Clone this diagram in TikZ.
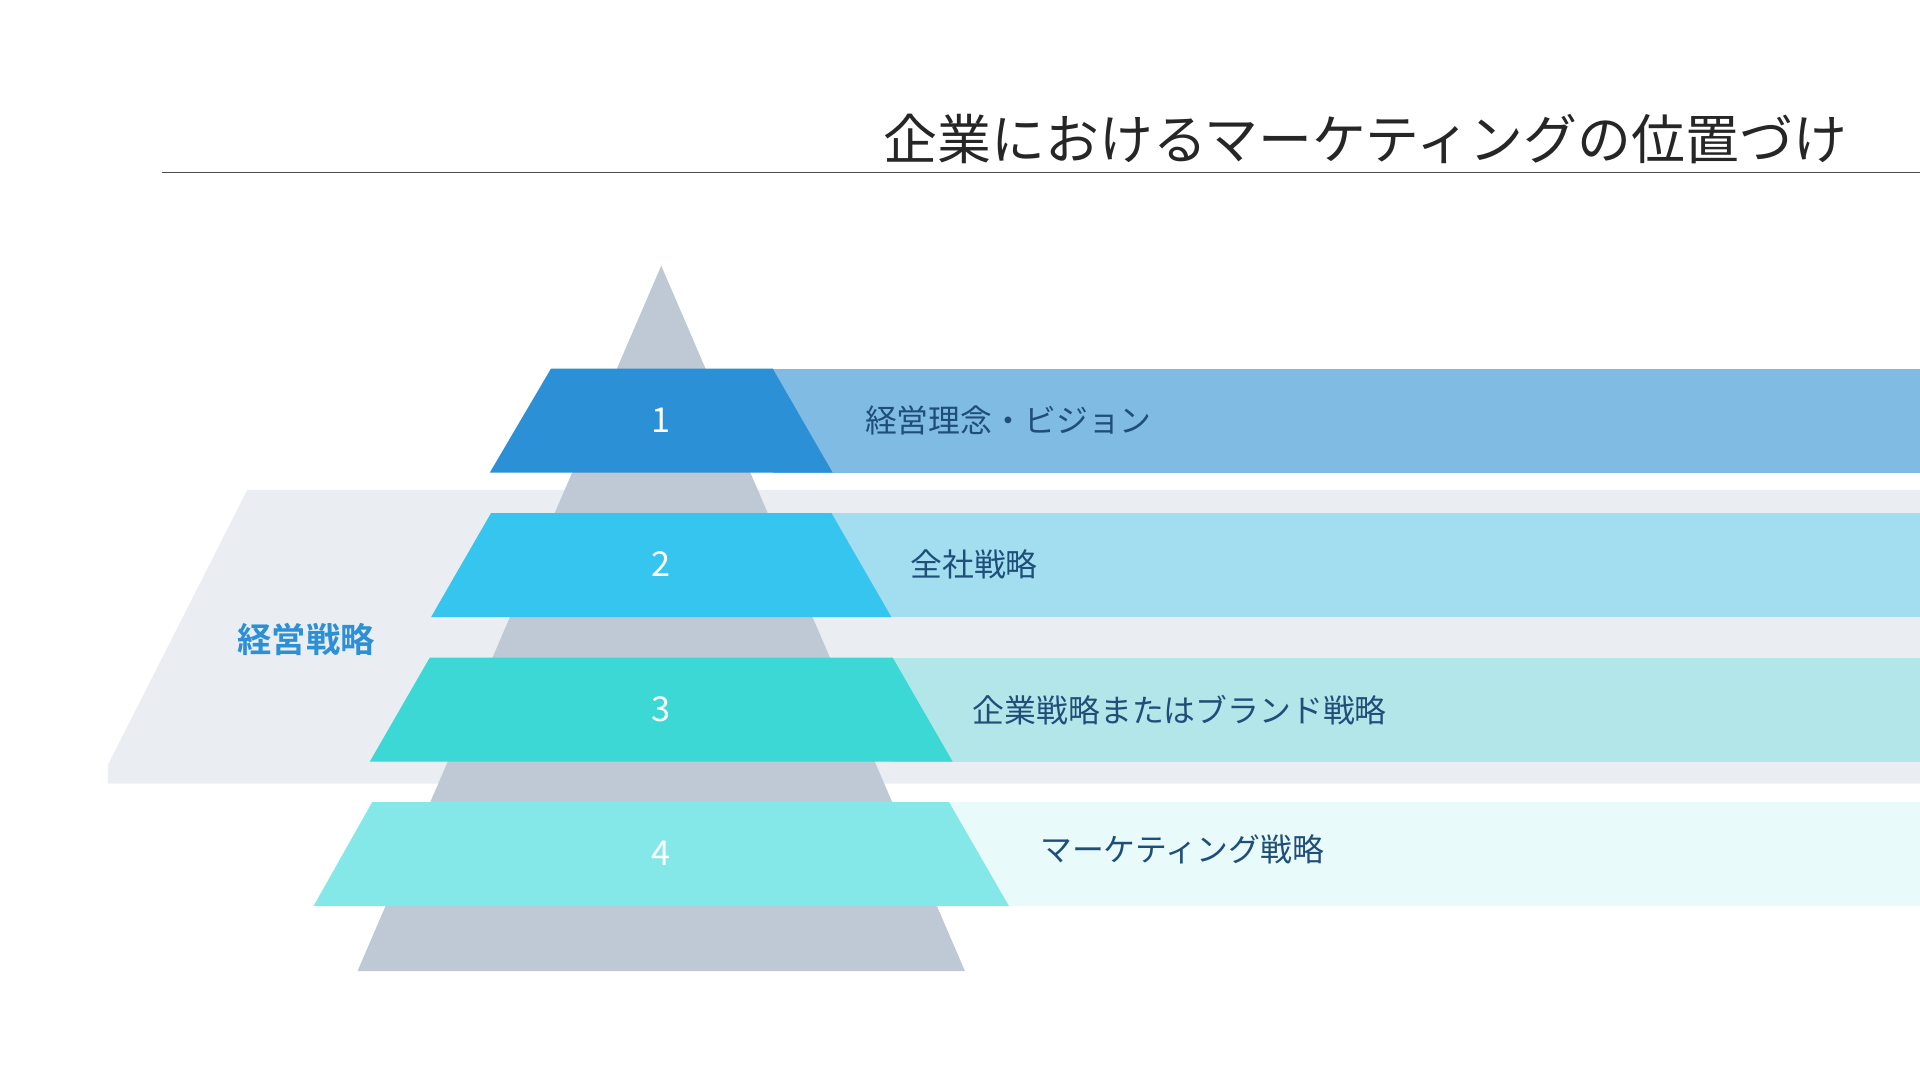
\documentclass[tikz,border=0pt]{standalone}
\usepackage{fontspec}
\newfontfamily\jp{Noto Sans CJK JP}
\newfontfamily\jpb{Noto Sans CJK JP Bold}
\definecolor{pyr}{HTML}{BEC9D5}
\definecolor{bandbg}{HTML}{EAEDF2}
\definecolor{cA}{HTML}{2B90D5}\definecolor{bA}{HTML}{7FBBE3}
\definecolor{cB}{HTML}{36C5EE}\definecolor{bB}{HTML}{A2DEF0}
\definecolor{cC}{HTML}{3CD8D6}\definecolor{bC}{HTML}{B3E6E9}
\definecolor{cD}{HTML}{84E8E8}\definecolor{bD}{HTML}{E9FAFA}
\definecolor{lbl}{HTML}{1F4E79}
\begin{document}
\begin{tikzpicture}[x=1pt,y=-1pt,
  num/.style={text=white,font=\jp\fontsize{28}{30}\selectfont},
  lab/.style={anchor=west,text=lbl,font=\jp\fontsize{26}{30}\selectfont}]
\useasboundingbox[fill=white] (0,0) rectangle (1568,882);
\node[anchor=base east,font=\jp\fontsize{44}{50}\selectfont,text=black!85] (title) at (1512,130) {企業におけるマーケティングの位置づけ};
\draw[black!70,line width=1] (132,141) -- (1568,141);
\fill[bandbg] (202,400) -- (1568,400) -- (1568,640) -- (88,640) -- (88,625) -- cycle;
\fill[pyr] (540,217) -- (788,793) -- (292,793) -- cycle;
\fill[bA] (631,301) rectangle (1568,386);
\fill[cA] (450,301) -- (631,301) -- (680,386) -- (400,386) -- cycle;
\fill[bB] (679,419) rectangle (1568,504);
\fill[cB] (401,419) -- (679,419) -- (728,504) -- (352,504) -- cycle;
\fill[bC] (729,537) rectangle (1568,622);
\fill[cC] (351,537) -- (729,537) -- (778,622) -- (302,622) -- cycle;
\fill[bD] (775,655) rectangle (1568,740);
\fill[cD] (304,655) -- (775,655) -- (824,740) -- (256,740) -- cycle;
\node[num] (n1) at (540,343) {1};
\node[num] (n2) at (540,461) {2};
\node[num] (n3) at (540,579) {3};
\node[num] (n4) at (540,697) {4};
\node[lab] (l1) at (703,343) {経営理念・ビジョン};
\node[lab] (l2) at (740,461) {全社戦略};
\node[lab] (l3) at (791,580) {企業戦略またはブランド戦略};
\node[lab] (l4) at (846,694) {マーケティング戦略};
\node[text=cA,font=\jpb\fontsize{28}{30}\selectfont] (k) at (250,522) {経営戦略};
\end{tikzpicture}
\end{document}
